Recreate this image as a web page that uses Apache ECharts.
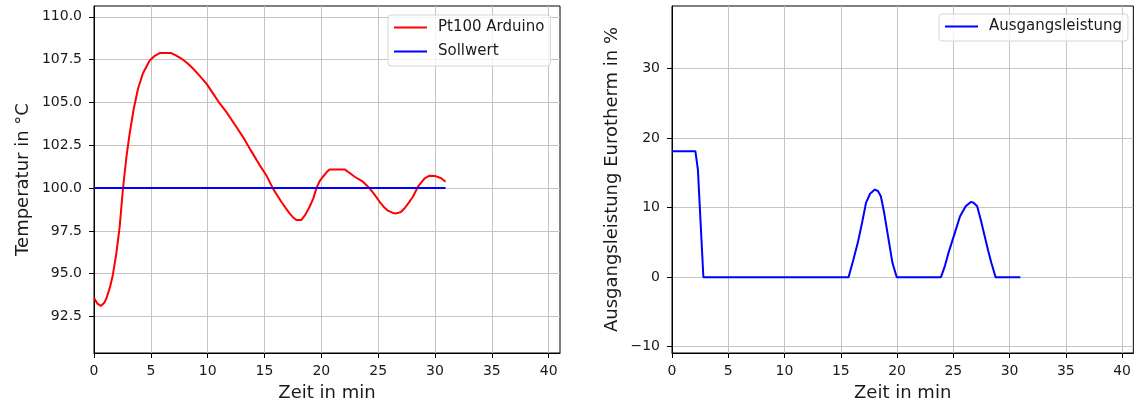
<!DOCTYPE html>
<html>
<head>
<meta charset="utf-8">
<script src="https://cdn.jsdelivr.net/npm/echarts@6/dist/echarts.min.js"></script>
<style>
  html, body { margin: 0; padding: 0; background: #fff; }
  #chart { width: 1134px; height: 407px; }
</style>
</head>
<body>
<div id="chart"></div>
<script>
// ---- Data ----
const timeTemp = [0.0, 0.3, 0.6, 0.9, 1.1, 1.4, 1.65, 1.97, 2.26, 2.55, 2.85, 3.14, 3.49, 3.87, 4.31, 4.9, 5.3, 5.78, 6.3, 6.8, 7.2, 7.69, 8.2, 8.71, 9.3, 9.89, 10.5, 11.06, 11.64, 12.4, 13.1, 13.8, 14.57, 15.2, 15.74, 16.1, 16.48, 16.9, 17.21, 17.5, 17.8, 18.24, 18.6, 18.97, 19.3, 19.56, 19.85, 20.14, 20.5, 20.73, 21.3, 22.05, 22.5, 22.93, 23.66, 24.0, 24.25, 24.7, 25.13, 25.5, 25.86, 26.3, 26.6, 27.0, 27.33, 27.7, 28.06, 28.5, 29.09, 29.52, 30.05, 30.55, 30.93];
const tempArduino = [93.6, 93.25, 93.12, 93.3, 93.57, 94.2, 94.9, 96.2, 97.75, 99.98, 101.8, 103.2, 104.6, 105.8, 106.7, 107.45, 107.7, 107.88, 107.88, 107.88, 107.75, 107.56, 107.3, 106.98, 106.55, 106.1, 105.5, 104.94, 104.45, 103.7, 102.99, 102.2, 101.34, 100.7, 99.98, 99.6, 99.2, 98.8, 98.52, 98.3, 98.14, 98.14, 98.45, 98.91, 99.4, 99.98, 100.4, 100.66, 100.95, 101.09, 101.09, 101.09, 100.88, 100.66, 100.37, 100.15, 99.98, 99.6, 99.2, 98.9, 98.68, 98.55, 98.52, 98.6, 98.82, 99.15, 99.49, 100.08, 100.57, 100.72, 100.7, 100.57, 100.37];
const timeSoll = [0.0, 30.93];
const sollwert = [100.0, 100.0];

const timePower = [0, 2.08, 2.3, 2.79, 15.69, 16.1, 16.51, 16.9, 17.24, 17.6, 18.03, 18.3, 18.56, 18.85, 19.15, 19.59, 19.97, 23.9, 24.25, 24.57, 25.1, 25.6, 26.1, 26.56, 26.8, 27.12, 27.45, 27.79, 28.1, 28.38, 28.76, 30.96];
const powerOut = [18.1, 18.1, 15.5, 0, 0, 2.4, 4.94, 7.9, 10.69, 12.0, 12.6, 12.4, 11.64, 9.3, 6.38, 2.07, 0, 0, 1.6, 3.5, 6.2, 8.77, 10.2, 10.83, 10.7, 10.2, 8.2, 5.89, 3.8, 2.07, 0, 0];

const xTicks = [0, 5, 10, 15, 20, 25, 30, 35, 40];
const tempTicks = [92.5, 95.0, 97.5, 100.0, 102.5, 105.0, 107.5, 110.0];
const powerTicks = [-10, 0, 10, 20, 30];

const xLabel = 'Zeit in min';
const yLabelLeft = 'Temperatur in °C';
const yLabelRight = 'Ausgangsleistung Eurotherm in %';

// ---- Build ----
const zip = (xs, ys) => xs.map((x, i) => [x, ys[i]]);
const FONT = 'DejaVu Sans';
const TXT = '#1a1a1a';
const GRIDC = '#c4c4c4';

function xAxisCfg(gridIndex) {
  return {
    type: 'value', gridIndex, min: 0, max: 41,
    name: xLabel, nameLocation: 'middle', nameGap: 31,
    nameTextStyle: { fontFamily: FONT, fontSize: 18, color: TXT },
    axisLine: { show: true, onZero: false, lineStyle: { color: '#000', width: 1 } },
    axisTick: { show: true, length: 5, customValues: xTicks, lineStyle: { color: '#000' } },
    axisLabel: { customValues: xTicks, margin: 11, fontFamily: FONT, fontSize: 14, color: TXT },
    splitLine: { show: true, lineStyle: { color: GRIDC, width: 1 } }
  };
}

function yAxisCfg(gridIndex, min, max, ticks, name, gap, fmt) {
  return {
    type: 'value', gridIndex, min, max,
    name, nameLocation: 'middle', nameGap: gap,
    nameTextStyle: { fontFamily: FONT, fontSize: 18, color: TXT },
    axisLine: { show: true, onZero: false, lineStyle: { color: '#000', width: 1 } },
    axisTick: { show: true, length: 5, customValues: ticks, lineStyle: { color: '#000' } },
    axisLabel: { customValues: ticks, margin: 12, fontFamily: FONT, fontSize: 14, color: TXT, formatter: fmt },
    splitLine: { show: true, lineStyle: { color: GRIDC, width: 1 } }
  };
}

const legendBase = {
  orient: 'vertical',
  itemWidth: 33, itemHeight: 14, itemGap: 9,
  padding: [5, 6, 7, 5],
  backgroundColor: 'rgba(255,255,255,0.8)',
  borderColor: '#d5d5d5', borderWidth: 1, borderRadius: 3,
  itemStyle: { opacity: 0 },
  textStyle: { fontFamily: FONT, fontSize: 15, color: TXT, padding: [0, 0, 0, 6] }
};

const option = {
  animation: false,
  backgroundColor: '#fff',
  textStyle: { fontFamily: FONT },
  grid: [
    { left: 94, top: 6, width: 466, height: 347, show: true, borderColor: '#000', borderWidth: 1, backgroundColor: 'transparent' },
    { left: 672, top: 6, width: 466, height: 347, show: true, borderColor: '#000', borderWidth: 1, backgroundColor: 'transparent' }
  ],
  xAxis: [xAxisCfg(0), xAxisCfg(1)],
  yAxis: [
    yAxisCfg(0, 90.37, 110.63, tempTicks, yLabelLeft, 62, v => v.toFixed(1)),
    yAxisCfg(1, -10.9, 39.0, powerTicks, yLabelRight, 51, v => (v < 0 ? '\u2212' + Math.abs(v) : String(v)))
  ],
  legend: [
    Object.assign({}, legendBase, { left: 388, top: 15, data: ['Pt100 Arduino', 'Sollwert'] }),
    Object.assign({}, legendBase, { left: 939, top: 14, data: ['Ausgangsleistung'] })
  ],
  series: [
    { name: 'Pt100 Arduino', type: 'line', xAxisIndex: 0, yAxisIndex: 0, data: zip(timeTemp, tempArduino),
      symbol: 'none', color: '#ff0000', lineStyle: { width: 2, color: '#ff0000' }, z: 3 },
    { name: 'Sollwert', type: 'line', xAxisIndex: 0, yAxisIndex: 0, data: zip(timeSoll, sollwert),
      symbol: 'none', color: '#0000ff', lineStyle: { width: 2, color: '#0000ff' }, z: 4 },
    { name: 'Ausgangsleistung', type: 'line', xAxisIndex: 1, yAxisIndex: 1, data: zip(timePower, powerOut),
      symbol: 'none', color: '#0000ff', lineStyle: { width: 2, color: '#0000ff' }, z: 3 }
  ]
};

const chart = echarts.init(document.getElementById('chart'), null, { renderer: 'canvas' });
chart.setOption(option);
</script>
</body>
</html>
